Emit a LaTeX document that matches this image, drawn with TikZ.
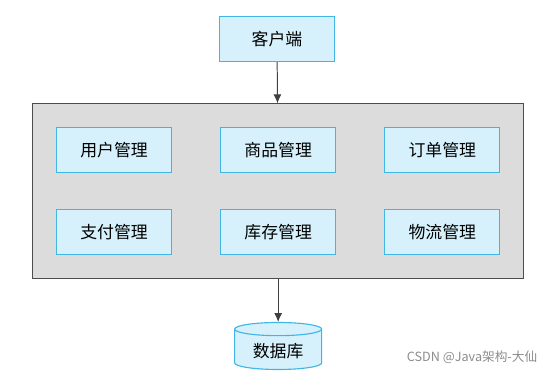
\documentclass[tikz,border=0pt]{standalone}
\usepackage{fontspec}
\setmainfont{Noto Sans CJK SC}
\usepackage{xcolor}
\usepackage{tikz}
\usetikzlibrary{arrows.meta,positioning,shapes.geometric,fit,backgrounds}

\definecolor{cyanfill}{HTML}{D6F1FB}
\definecolor{cyanline}{HTML}{3FB6E6}
\definecolor{panelfill}{HTML}{DCDCDC}

\begin{document}
\begin{tikzpicture}[x=0.025cm, y=-0.025cm, node distance=1.2cm,
  module/.style={rectangle, draw=cyanline, fill=cyanfill, line width=0.8pt, minimum width=2.875cm, minimum height=1.125cm, font=\fontsize{12}{14}\selectfont},
  store/.style={cylinder, shape border rotate=90, aspect=0.22, draw=cyanline, fill=cyanfill, line width=0.8pt, minimum width=2.175cm, minimum height=1.175cm, font=\fontsize{12}{14}\selectfont},
  line/.style={draw=black!75, -{Latex[length=2.2mm, width=2mm]}, line width=0.7pt}]
  \useasboundingbox (0,0) rectangle (554,379);

  \node [module] (client) at (277,39) {客户端};

  \node [module] (user) at (114,150) {用户管理};
  \node [module, right=of user] (goods) {商品管理};
  \node [module, right=of goods] (order) {订单管理};
  \node [module, below=0.9cm of user] (pay) {支付管理};
  \node [module, right=of pay] (stock) {库存管理};
  \node [module, right=of stock] (ship) {物流管理};

  \begin{scope}[on background layer]
    \node [draw=black!70, fill=panelfill, line width=0.7pt, inner sep=0.58cm, fit=(user)(ship)] (server) {};
  \end{scope}

  \node [store, below=1.075cm of server] (db) {数据库};

  \node [font=\fontsize{9}{10}\selectfont, text=black!45] (mark) at (472,357) {CSDN @Java架构-大仙};

  \path [line] (client) -- (server);
  \path [line] (server) -- (db);
\end{tikzpicture}
\end{document}
